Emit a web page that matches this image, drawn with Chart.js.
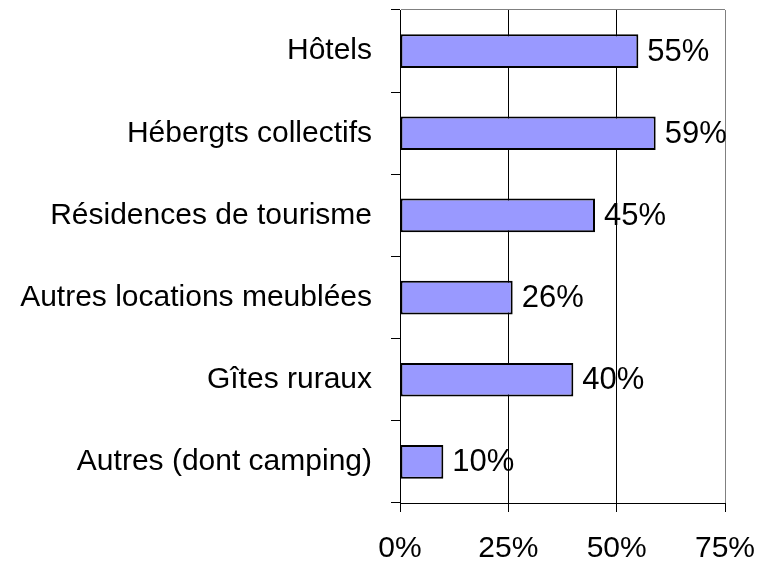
<!DOCTYPE html>
<html>
<head>
<meta charset="utf-8">
<script src="https://cdn.jsdelivr.net/npm/chart.js@4"></script>
<style>
html,body{margin:0;padding:0;background:#fff;}
#wrap{width:759px;height:562px;}
</style>
</head>
<body>
<div id="wrap"><canvas id="c" width="759" height="562"></canvas></div>
<script>
const categories = ["Hôtels", "Hébergts collectifs", "Résidences de tourisme", "Autres locations meublées", "Gîtes ruraux", "Autres (dont camping)"];
const values = [55, 59, 45, 26, 40, 10];
const xTicks = [0, 25, 50, 75];

const FONT = "'Liberation Sans', Arial, sans-serif";

const valueLabels = {
  id: 'valueLabels',
  afterDatasetsDraw(chart) {
    const ctx = chart.ctx;
    const meta = chart.getDatasetMeta(0);
    ctx.save();
    ctx.font = "31px " + FONT;
    ctx.fillStyle = '#000';
    ctx.textAlign = 'left';
    ctx.textBaseline = 'middle';
    meta.data.forEach((bar, i) => {
      ctx.fillText(values[i] + '%', bar.x + 9, bar.y + 1);
    });
    ctx.restore();
  }
};

new Chart(document.getElementById('c'), {
  type: 'bar',
  data: {
    labels: categories,
    datasets: [{
      data: values,
      backgroundColor: '#9999FF',
      borderColor: '#000',
      borderWidth: 2,
      borderSkipped: false,
      categoryPercentage: 1,
      barPercentage: 0.41
    }]
  },
  options: {
    indexAxis: 'y',
    responsive: false,
    animation: false,
    devicePixelRatio: 1,
    layout: { padding: { left: 0, right: 34, top: 10, bottom: 0 } },
    plugins: { legend: { display: false }, tooltip: { enabled: false } },
    scales: {
      x: {
        min: 0, max: 75,
        afterBuildTicks(scale) { scale.ticks = xTicks.map(v => ({ value: v })); },
        afterFit(scale) { scale.height = 59; scale.paddingLeft = 0; scale.paddingRight = 0; },
        ticks: {
          callback: v => v + '%',
          color: '#000',
          font: { family: FONT, size: 30 },
          padding: 19,
          maxRotation: 0
        },
        grid: {
          color: ctx => (ctx.tick && ctx.tick.value === 75) ? '#808080' : '#000',
          tickColor: '#000',
          tickLength: 9,
          lineWidth: 1
        },
        border: { color: '#000', width: 1 }
      },
      y: {
        afterFit(scale) { scale.width = 400; scale.paddingTop = 0; scale.paddingBottom = 0; },
        ticks: {
          color: '#000',
          font: { family: FONT, size: 30 },
          padding: 19
        },
        grid: {
          offset: true,
          color: ctx => ctx.index === 0 ? '#808080' : 'rgba(0,0,0,0)',
          tickColor: '#000',
          tickLength: 9,
          lineWidth: 1
        },
        border: { color: '#000', width: 1 }
      }
    }
  },
  plugins: [valueLabels]
});
</script>
</body>
</html>
